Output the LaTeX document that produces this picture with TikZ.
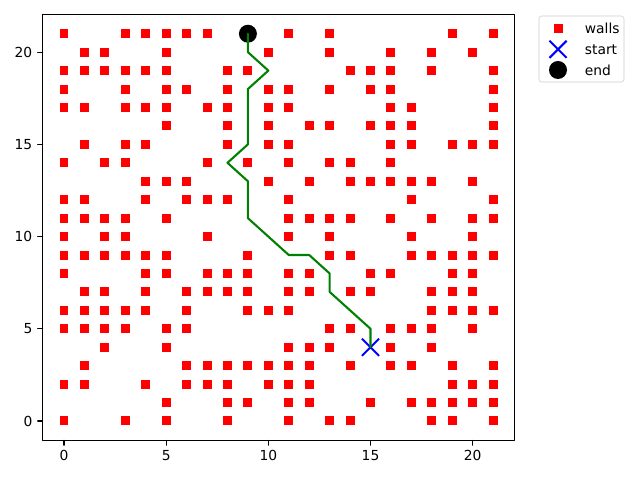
\documentclass[tikz,border=0pt]{standalone}
\usepackage{fontspec}
\setmainfont{DejaVu Sans}
\definecolor{pltgreen}{rgb}{0,0.5,0}
\definecolor{legframe}{gray}{0.8}
\tikzset{
  wall/.style={fill=red, inner sep=0pt, minimum size=6.5pt},
  goal/.style={circle, fill=black, inner sep=0pt, minimum size=13pt},
  cross/.style={inner sep=0pt, minimum size=12pt},
  tick/.style={line width=0.8pt},
}
\begin{document}
\begin{tikzpicture}[x=0.254mm, y=0.254mm, line cap=round, line join=round]
  \useasboundingbox (0,0) rectangle (640,480);
  \begin{scope}[shift={(64,59)}, x=5.19mm, y=4.684mm]
    % axes frame and ticks
    \draw[line width=0.8pt, line cap=rect] (-1.05,-1.05) rectangle (22.05,22.05);
    \foreach \x in {0,5,10,15,20} \draw[tick] (\x,-1.05) -- ++(0,-3.5pt) node[below, inner sep=3.5pt] {\x};
    \foreach \y in {0,5,10,15,20} \draw[tick] (-1.05,\y) -- ++(-3.5pt,0) node[left, inner sep=3.5pt] {\y};
    % walls, row by row
    \foreach \row/\cols in {
      21/{0,3,4,5,6,7,11,13,19,21},
      20/{1,2,5,10,13,16,18,20},
      19/{0,1,2,3,4,5,8,9,14,15,16,18,21},
      18/{0,3,5,6,8,10,11,13,15,16,21},
      17/{0,1,3,4,5,7,8,10,11,16,17,21},
      16/{5,8,10,12,13,15,16,17,21},
      15/{1,3,4,8,10,11,16,17,19,20,21},
      14/{0,2,3,7,9,11,13,14,16},
      13/{4,5,6,10,12,14,15,16,17,18,20},
      12/{0,1,4,6,7,8,11,17,21},
      11/{0,1,2,3,5,11,12,13,14,16,18,20,21},
      10/{0,2,3,7,11,13,17,20},
      9/{0,1,2,3,4,5,9,13,14,17,18,19,20,21},
      8/{0,4,5,7,8,9,11,12,15,16,19,20},
      7/{1,2,4,6,7,8,9,11,12,14,15,18,19,20},
      6/{0,1,2,3,4,6,9,10,11,18,19,20,21},
      5/{0,1,2,3,5,6,13,14,16,17,18,20},
      4/{2,5,11,12,13,16,18},
      3/{1,6,7,8,9,10,11,12,14,16,17,19,21},
      2/{0,1,4,6,7,8,10,11,12,19,20,21},
      1/{5,8,9,11,12,15,17,18,19,20,21},
      0/{0,3,5,8,11,13,14,18,19,21}}
      \foreach \col in \cols \node[wall] (w-\col-\row) at (\col,\row) {};
    % start and end
    \node[cross] (start) at (15,4) {};
    \draw[blue, line width=1.5pt, line cap=butt] (start.north west) -- (start.south east)
      (start.north east) -- (start.south west);
    \node[goal] (end) at (9,21) {};
    % path found
    \draw[pltgreen, line width=1.5pt] (start.center) -- (15,5) -- (13,7) -- (13,8) -- (12,9)
      -- (11,9) -- (9,11) -- (9,13) -- (8,14) -- (9,15) -- (9,18) -- (10,19) -- (9,20) -- (end.center);
  \end{scope}
  % legend
  \draw[legframe, fill=white, rounded corners=2pt] (539,398) rectangle (624,464);
  \node[wall] (leg-walls) at (558,451.7) {};
  \node[anchor=west] (lab-walls) at (580,451.7) {walls};
  \node[cross] (leg-start) at (558,430.7) {};
  \draw[blue, line width=1.5pt, line cap=butt] (leg-start.north west) -- (leg-start.south east)
    (leg-start.north east) -- (leg-start.south west);
  \node[anchor=west] (lab-start) at (580,430.7) {start};
  \node[goal] (leg-end) at (558,410) {};
  \node[anchor=west] (lab-end) at (580,410) {end};
\end{tikzpicture}
\end{document}
